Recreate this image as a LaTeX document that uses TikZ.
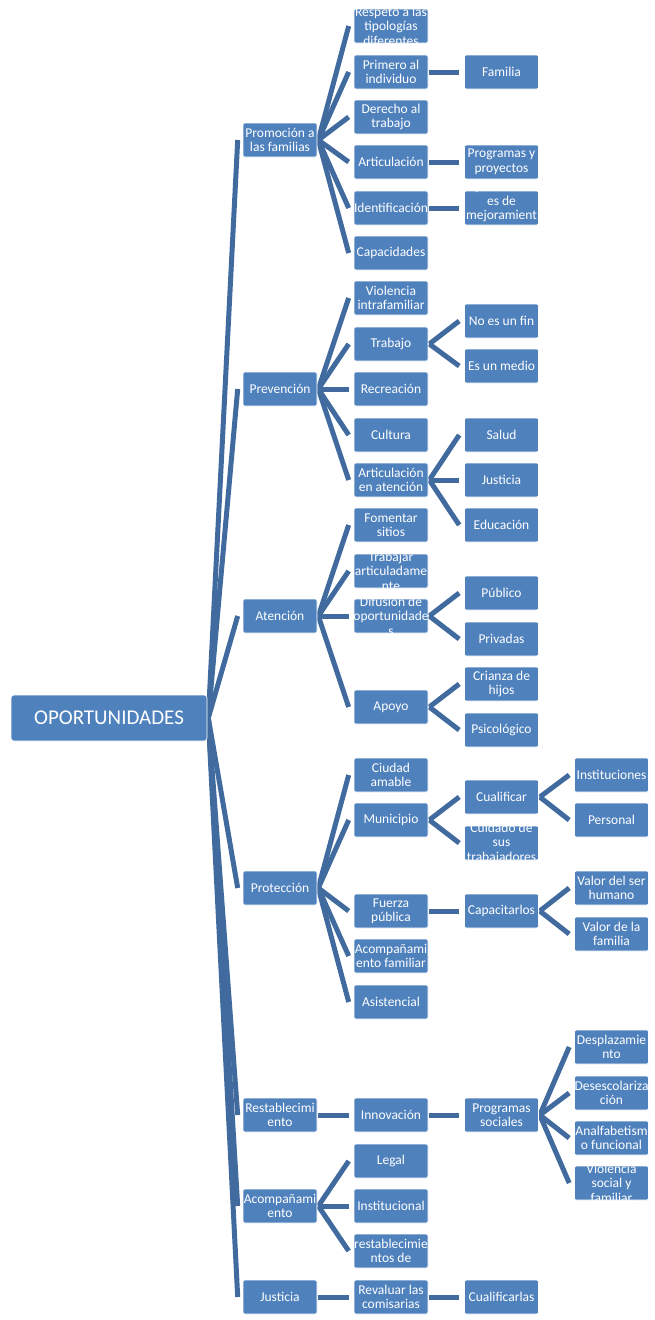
\documentclass[tikz,border=0pt]{standalone}
\usepackage{fontspec}
\setmainfont{Carlito}
\definecolor{boxblue}{HTML}{4F81BD}
\definecolor{lineblue}{HTML}{416B9F}
\pgfdeclarelayer{bg}
\pgfsetlayers{bg,main}
\tikzset{
  bx/.style={rectangle, fill=boxblue, draw=white, line width=0.6pt, rounded corners=2pt,
    minimum width=74pt, minimum height=34pt, inner sep=0pt},
  bxtext/.style={text=white, align=center, inner sep=0pt, font=\fontsize{13.5}{14.5}\selectfont},
  rootbox/.style={rectangle, fill=boxblue, draw=white, line width=0.6pt, rounded corners=3pt,
    minimum width=196pt, minimum height=46pt, inner sep=0pt, text=white,
    font=\fontsize{21}{24}\selectfont},
  conn/.style={draw=lineblue, line width=5pt, line cap=butt}
}
\newcommand\bx[3]{\node[bx, path picture={\node[bxtext] at (path picture bounding box.center) {#3};}] (#1) at (#2) {};}
\begin{document}
\begin{tikzpicture}[x=1pt,y=-1pt]
\useasboundingbox (0,0) rectangle (654,1320);
\node[rootbox] (R) at (109,718) {OPORTUNIDADES};
% level 1
\bx{a1}{280,140}{Promoción a\\las familias}
\bx{a2}{280,389}{Prevención}
\bx{a3}{280,616}{Atención}
\bx{a4}{280,888}{Protección}
\bx{a5}{280,1115}{Restablecimi\\ento}
\bx{a6}{280,1206}{Acompañami\\ento}
\bx{a7}{280,1297}{Justicia}
% level 2
\bx{b1}{391,26}{Respeto a las\\tipologías\\diferentes}
\bx{b2}{391,72}{Primero al\\individuo}
\bx{b3}{391,117}{Derecho al\\trabajo}
\bx{b4}{391,162}{Articulación}
\bx{b5}{391,208}{Identificación}
\bx{b6}{391,253}{Capacidades}
\bx{c1}{391,298}{Violencia\\intrafamiliar}
\bx{c2}{391,344}{Trabajo}
\bx{c3}{391,389}{Recreación}
\bx{c4}{391,435}{Cultura}
\bx{c5}{391,480}{Articulación\\en atención}
\bx{d1}{391,525}{Fomentar\\sitios}
\bx{d2}{391,571}{Trabajar\\articuladame\\nte}
\bx{d3}{391,616}{Difusión de\\oportunidade\\s}
\bx{d4}{391,707}{Apoyo}
\bx{e1}{391,775}{Ciudad\\amable}
\bx{e2}{391,820}{Municipio}
\bx{e3}{391,911}{Fuerza\\pública}
\bx{e4}{391,956}{Acompañami\\ento familiar}
\bx{e5}{391,1002}{Asistencial}
\bx{f1}{391,1115}{Innovación}
\bx{g1}{391,1161}{Legal}
\bx{g2}{391,1206}{Institucional}
\bx{g3}{391,1251}{restablecimie\\ntos de}
\bx{h1}{391,1297}{Revaluar las\\comisarias}
% level 3
\bx{b2x}{501.5,72}{Familia}
\bx{b4x}{501.5,162}{Programas y\\proyectos}
\bx{b5x}{501.5,208}{Oportunidad\\es de\\mejoramient\\o}
\bx{c2a}{501.5,321}{No es un fin}
\bx{c2b}{501.5,366}{Es un medio}
\bx{c5a}{501.5,435}{Salud}
\bx{c5b}{501.5,480}{Justicia}
\bx{c5c}{501.5,525}{Educación}
\bx{d3a}{501.5,593}{Público}
\bx{d3b}{501.5,639}{Privadas}
\bx{d4a}{501.5,684}{Crianza de\\hijos}
\bx{d4b}{501.5,730}{Psicológico}
\bx{e2a}{501.5,797}{Cualificar}
\bx{e2b}{501.5,843}{Cuidado de\\sus\\trabajadores}
\bx{e3a}{501.5,911}{Capacitarlos}
\bx{f1a}{501.5,1115}{Programas\\sociales}
\bx{h1a}{501.5,1297}{Cualificarlas}
% level 4
\bx{e2a1}{611.5,775}{Instituciones}
\bx{e2a2}{611.5,820}{Personal}
\bx{e3a1}{611.5,888}{Valor del ser\\humano}
\bx{e3a2}{611.5,934}{Valor de la\\familia}
\bx{f1a1}{611.5,1047}{Desplazamie\\nto}
\bx{f1a2}{611.5,1093}{Desescolariza\\ción}
\bx{f1a3}{611.5,1138}{Analfabetism\\o funcional}
\bx{f1a4}{611.5,1183}{Violencia\\social y\\familiar}
% connectors
\begin{pgfonlayer}{bg}
\foreach \p/\c in {R/a1,R/a2,R/a3,R/a4,R/a5,R/a6,R/a7,
  a1/b1,a1/b2,a1/b3,a1/b4,a1/b5,a1/b6,b2/b2x,b4/b4x,b5/b5x,
  a2/c1,a2/c2,a2/c3,a2/c4,a2/c5,c2/c2a,c2/c2b,c5/c5a,c5/c5b,c5/c5c,
  a3/d1,a3/d2,a3/d3,a3/d4,d3/d3a,d3/d3b,d4/d4a,d4/d4b,
  a4/e1,a4/e2,a4/e3,a4/e4,a4/e5,e2/e2a,e2/e2b,e2a/e2a1,e2a/e2a2,e3/e3a,e3a/e3a1,e3a/e3a2,
  a5/f1,f1/f1a,f1a/f1a1,f1a/f1a2,f1a/f1a3,f1a/f1a4,
  a6/g1,a6/g2,a6/g3,a7/h1,h1/h1a}
  \draw[conn] ([xshift=1pt]\p.east) -- ([xshift=-5pt]\c.west);
\end{pgfonlayer}
\end{tikzpicture}
\end{document}
